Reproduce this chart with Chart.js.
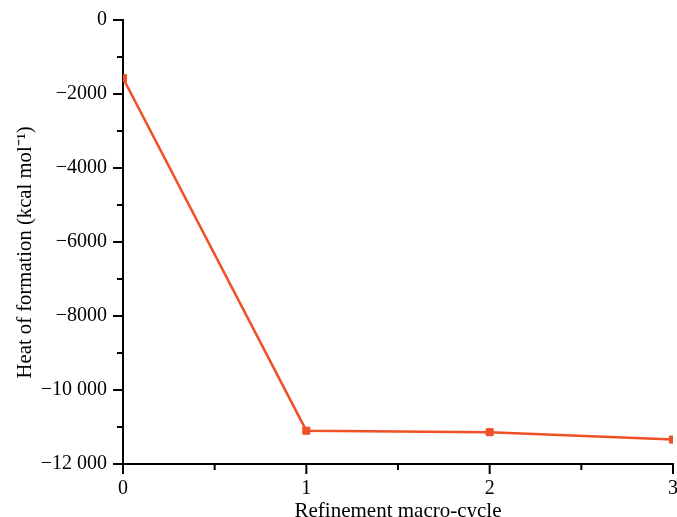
<!DOCTYPE html>
<html>
<head>
<meta charset="utf-8">
<script src="https://cdn.jsdelivr.net/npm/chart.js@4"></script>
<style>
    html, body { margin: 0; padding: 0; background: #ffffff; }
    #wrap { width: 677px; height: 517px; position: relative; }
</style>
</head>
<body>
<div id="wrap"><canvas id="heatChart"></canvas></div>
<script>
// Heat of formation vs refinement macro-cycle
const cycles = [0, 1, 2, 3];
const heatValues = [-1570, -11100, -11140, -11340];
const xTicks = [0, 1, 2, 3];
const yTicks = [0, -2000, -4000, -6000, -8000, -10000, -12000];

const serif = "'Liberation Serif', 'Times New Roman', serif";
const lineColor = '#ef5026';

// Format tick numbers like the figure: unicode minus, space for 5+ digits
function formatTick(v) {
    const abs = Math.abs(v);
    let s = String(abs);
    if (abs >= 10000) {
        s = s.slice(0, s.length - 3) + ' ' + s.slice(-3);
    }
    return (v < 0 ? '\u2212' : '') + s;
}

// Draws outward ticks, long ones at labels and short ones between
const tickPlugin = {
    id: 'axisTicks',
    afterDraw(chart) {
        const ctx = chart.ctx;
        const xs = chart.scales.x;
        const ys = chart.scales.y;
        ctx.save();
        ctx.strokeStyle = '#000';
        ctx.lineWidth = 2;
        ctx.beginPath();
        yTicks.forEach(v => {
            const p = ys.getPixelForValue(v);
            ctx.moveTo(xs.left - 10, p);
            ctx.lineTo(xs.left, p);
            if (v > -12000) {
                const m = ys.getPixelForValue(v - 1000);
                ctx.moveTo(xs.left - 6, m);
                ctx.lineTo(xs.left, m);
            }
        });
        xTicks.forEach(v => {
            const p = xs.getPixelForValue(v);
            ctx.moveTo(p, ys.bottom);
            ctx.lineTo(p, ys.bottom + 10);
            if (v < 3) {
                const m = xs.getPixelForValue(v + 0.5);
                ctx.moveTo(m, ys.bottom);
                ctx.lineTo(m, ys.bottom + 6);
            }
        });
        ctx.stroke();
        ctx.restore();
    }
};

const ctx = document.getElementById('heatChart');

new Chart(ctx, {
    type: 'line',
    data: {
        datasets: [
            {
                data: cycles.map((c, i) => ({ x: c, y: heatValues[i] })),
                borderColor: lineColor,
                backgroundColor: lineColor,
                borderWidth: 2.5,
                pointStyle: 'rect',
                pointRadius: 5,
                pointBorderWidth: 1,
                pointBorderColor: lineColor,
                pointBackgroundColor: lineColor,
                tension: 0,
                clip: 0
            }
        ]
    },
    options: {
        responsive: true,
        maintainAspectRatio: false,
        animation: false,
        layout: {
            autoPadding: false,
            padding: { top: 20, right: 4, left: 0, bottom: 0 }
        },
        plugins: {
            legend: { display: false },
            tooltip: { enabled: false }
        },
        scales: {
            x: {
                type: 'linear',
                min: 0,
                max: 3,
                afterFit: function(scale) {
                    scale.height = 53;
                    scale.paddingLeft = 0;
                    scale.paddingRight = 0;
                },
                afterBuildTicks: function(scale) {
                    scale.ticks = xTicks.map(v => ({ value: v }));
                },
                grid: { display: false, drawTicks: false },
                border: { display: true, color: '#000', width: 2 },
                ticks: {
                    color: '#000',
                    padding: 13,
                    maxRotation: 0,
                    font: { family: serif, size: 20 },
                    callback: v => formatTick(v)
                },
                title: {
                    display: true,
                    text: 'Refinement macro-cycle',
                    color: '#000',
                    font: { family: serif, size: 21, lineHeight: 1 },
                    padding: { top: 0, bottom: -5 }
                }
            },
            y: {
                type: 'linear',
                min: -12000,
                max: 0,
                afterFit: function(scale) {
                    scale.width = 123;
                    scale.paddingTop = 0;
                    scale.paddingBottom = 0;
                },
                afterBuildTicks: function(scale) {
                    scale.ticks = yTicks.map(v => ({ value: v }));
                },
                grid: { display: false, drawTicks: false },
                border: { display: true, color: '#000', width: 2 },
                ticks: {
                    color: '#000',
                    padding: 16,
                    font: { family: serif, size: 20 },
                    callback: v => formatTick(v)
                },
                title: {
                    display: true,
                    // trailing spaces nudge the label down like in the figure
                    text: 'Heat of formation (kcal mol\u207B\u00B9)    ',
                    color: '#000',
                    font: { family: serif, size: 20.7, lineHeight: 1 },
                    padding: { top: 15, bottom: 0 }
                }
            }
        }
    },
    plugins: [tickPlugin]
});
</script>
</body>
</html>
